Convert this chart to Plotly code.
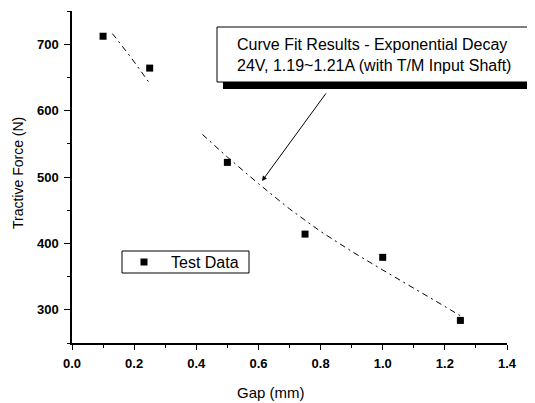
import plotly.graph_objects as go

# Data
gap_mm = [0.10, 0.25, 0.50, 0.75, 1.00, 1.25]
force_n = [712, 664, 522, 414, 379, 284]

# Exponential decay fit curve (as drawn, with gap between segments)
fit_x = [0.13, 0.19, 0.25, None, 0.42, 0.50, 0.60, 0.70, 0.80, 0.90, 1.00, 1.10, 1.20, 1.25]
fit_y = [716, 680, 641, None, 564, 530, 490, 452, 418, 388, 360, 333, 305, 291]

x_ticks = [0.0, 0.2, 0.4, 0.6, 0.8, 1.0, 1.2, 1.4]
y_ticks = [300, 400, 500, 600, 700]

OFF = 8                      # browser body margin
W, H = 535 - OFF, 403 - OFF  # figure size
L, R, T, B = 72, 507, 11, 343  # plot area in page pixels


def px(xp):
    return (xp - L) / (R - L)


def py(yp):
    return (B - yp) / (B - T)


fig = go.Figure()
fig.add_trace(go.Scatter(x=fit_x, y=fit_y, mode="lines", showlegend=False,
                         line=dict(color="black", width=1, dash="6px,4px,2px,4px"),
                         connectgaps=False))
fig.add_trace(go.Scatter(x=gap_mm, y=force_n, mode="markers", name="Test Data", showlegend=False,
                         marker=dict(symbol="square", size=7, color="black")))

tickfont = dict(family="Liberation Sans", size=13, color="black")
fig.update_layout(
    width=W, height=H,
    margin=dict(l=L - OFF, r=W - (R - OFF), t=T - OFF, b=H - (B - OFF)),
    plot_bgcolor="white", paper_bgcolor="white",
    font=dict(family="Liberation Sans", size=14, color="black"),
    xaxis=dict(range=[0, 1.4], tickvals=x_ticks, ticktext=[f"<b>{v:.1f}</b>" for v in x_ticks],
               showgrid=False, zeroline=False, showline=True, linecolor="black", linewidth=1.5,
               ticks="outside", ticklen=5, tickwidth=1.2, tickcolor="black", tickfont=tickfont,
               ticklabelstandoff=3,
               minor=dict(dtick=0.1, tick0=0, ticks="outside", ticklen=3, tickcolor="black", showgrid=False)),
    yaxis=dict(range=[250, 750], tickvals=y_ticks, ticktext=[f"<b>{v}</b>" for v in y_ticks],
               showgrid=False, zeroline=False, showline=True, linecolor="black", linewidth=1.5,
               ticks="outside", ticklen=6, tickwidth=1.2, tickcolor="black", tickfont=tickfont,
               ticklabelstandoff=3,
               minor=dict(dtick=50, tick0=250, ticks="outside", ticklen=3, tickcolor="black", showgrid=False)),
    showlegend=False,
)

# Axis titles
fig.add_annotation(text="Gap (mm)", xref="paper", yref="paper", x=px(271), y=py(392),
                   showarrow=False, font=dict(size=15), xanchor="center", yanchor="middle")
fig.add_annotation(text="Tractive Force (N)", xref="paper", yref="paper", x=px(18), y=py(173),
                   showarrow=False, font=dict(size=14), textangle=-90, xanchor="center", yanchor="middle")

# Legend box
fig.add_shape(type="rect", xref="paper", yref="paper", x0=px(122), x1=px(249), y0=py(273), y1=py(251),
              fillcolor="white", line=dict(color="black", width=1), layer="above")
fig.add_shape(type="rect", xref="paper", yref="paper", x0=px(140.5), x1=px(147.5), y0=py(265.5), y1=py(258.5),
              fillcolor="black", line=dict(width=0), layer="above")
fig.add_annotation(text="Test Data", xref="paper", yref="paper", x=px(169), y=py(262),
                   xanchor="left", yanchor="middle", showarrow=False, font=dict(size=16))

# Callout box with shadow
fig.add_shape(type="rect", xref="paper", yref="paper", x0=px(223), x1=px(545), y0=py(89), y1=py(33),
              fillcolor="black", line=dict(width=0), layer="above")
fig.add_shape(type="rect", xref="paper", yref="paper", x0=px(217), x1=px(534), y0=py(82), y1=py(27),
              fillcolor="white", line=dict(color="black", width=1), layer="above")
fig.add_annotation(text="Curve Fit Results - Exponential Decay<br>24V, 1.19~1.21A (with T/M Input Shaft)",
                   xref="paper", yref="paper", x=px(235), y=py(55), xanchor="left", yanchor="middle",
                   align="left", showarrow=False, font=dict(size=16))

# Arrow pointing at the fit curve
fig.add_annotation(x=0.6115, y=494, xref="x", yref="y", ax=65, ay=-89, axref="pixel", ayref="pixel",
                   text="", showarrow=True, arrowhead=2, arrowsize=1, arrowwidth=1, arrowcolor="black")

fig.write_html("out.html")
